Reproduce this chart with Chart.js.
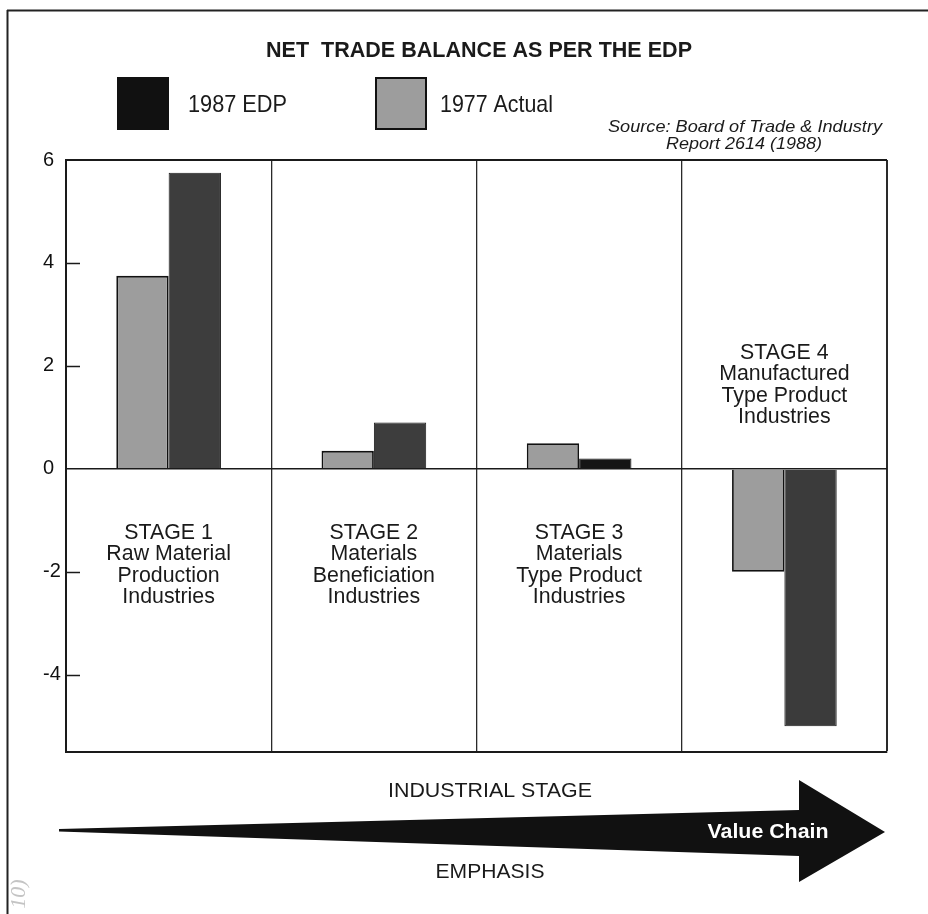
<!DOCTYPE html>
<html>
<head>
<meta charset="utf-8">
<title>Net Trade Balance as per the EDP</title>
<script src="https://cdn.jsdelivr.net/npm/chart.js@4.4.1/dist/chart.umd.min.js"></script>
<style>
  html, body { margin: 0; padding: 0; background: #fff; }
  #wrap { width: 928px; height: 914px; position: relative; }
</style>
</head>
<body>
<div id="wrap"><canvas id="tradeChart" width="928" height="914"></canvas></div>
<script>
// --- Data ---
const stages = [
    ['STAGE 1', 'Raw Material', 'Production', 'Industries'],
    ['STAGE 2', 'Materials', 'Beneficiation', 'Industries'],
    ['STAGE 3', 'Materials', 'Type Product', 'Industries'],
    ['STAGE 4', 'Manufactured', 'Type Product', 'Industries']
];
const seriesLabels = ['1977 Actual', '1987 EDP'];
const actual1977 = [3.75, 0.35, 0.5, -2.0];
const edp1987 = [5.75, 0.9, 0.2, -5.0];
const yTicks = [-4, -2, 0, 2, 4, 6];

const FONT = "'Liberation Sans', Arial, Helvetica, sans-serif";
const INK = '#1a1a1a';

// draw text stretched/squeezed to a given width, centred on cx
function fitText(ctx, text, cx, y, width, font, color) {
    ctx.save();
    ctx.font = font;
    ctx.fillStyle = color || INK;
    ctx.textAlign = 'center';
    ctx.textBaseline = 'alphabetic';
    const w = ctx.measureText(text).width;
    ctx.translate(cx, y);
    ctx.scale(width / w, 1);
    ctx.fillText(text, 0, 0);
    ctx.restore();
}

// --- Extra drawing: frame, title, legend, stage names, value chain arrow ---
const decorations = {
    id: 'decorations',
    beforeDraw(chart) {
        const ctx = chart.ctx;
        ctx.save();
        ctx.fillStyle = '#fff';
        ctx.fillRect(0, 0, chart.width, chart.height);
        ctx.restore();
    },
    afterDatasetsDraw(chart) {
        const ctx = chart.ctx;
        const x = chart.scales.x, y = chart.scales.y;
        const area = chart.chartArea;

        // short inward tick marks on the value axis
        ctx.save();
        ctx.strokeStyle = INK;
        ctx.lineWidth = 1.5;
        yTicks.filter(v => v !== 0 && v !== 6).forEach(v => {
            const py = Math.round(y.getPixelForValue(v)) + 0.5;
            ctx.beginPath();
            ctx.moveTo(area.left, py);
            ctx.lineTo(area.left + 14, py);
            ctx.stroke();
        });

        // stage names go on the side of the zero line the bars leave empty
        const zero = y.getPixelForValue(0);
        chart.data.labels.forEach((lines, i) => {
            const cx = x.getPixelForValue(i);
            const below = edp1987[i] >= 0;
            const start = below ? zero + 70 : zero - 110;
            lines.forEach((t, k) => {
                ctx.save();
                ctx.font = '22px ' + FONT;
                const w = ctx.measureText(t).width;
                ctx.restore();
                fitText(ctx, t, cx, start + k * 21.5, w * 0.97, '22px ' + FONT);
            });
        });
        ctx.restore();
    },
    afterDraw(chart) {
        const ctx = chart.ctx;
        const ds = chart.data.datasets;

        // page frame
        ctx.save();
        ctx.strokeStyle = '#222';
        ctx.lineWidth = 2;
        ctx.beginPath();
        ctx.moveTo(7, 10.5);
        ctx.lineTo(928, 10.5);
        ctx.moveTo(7.5, 10);
        ctx.lineTo(7.5, 914);
        ctx.stroke();
        ctx.restore();

        // title
        fitText(ctx, 'NET  TRADE BALANCE AS PER THE EDP', 479, 57, 426, 'bold 22px ' + FONT);

        // legend, EDP listed first
        const legend = [
            { d: ds[1], sx: 117, tx: 188, tw: 99 },
            { d: ds[0], sx: 375, tx: 440, tw: 113 }
        ];
        legend.forEach(item => {
            ctx.save();
            const fill = Array.isArray(item.d.backgroundColor) ? '#111' : item.d.backgroundColor;
            ctx.fillStyle = fill;
            ctx.fillRect(item.sx, 77, 52, 53);
            ctx.strokeStyle = '#111';
            ctx.lineWidth = 2;
            ctx.strokeRect(item.sx + 1, 78, 50, 51);
            ctx.restore();
            fitText(ctx, item.d.label, item.tx + item.tw / 2, 112, item.tw, '24px ' + FONT);
        });

        // source note
        fitText(ctx, 'Source: Board of Trade & Industry', 745, 131.5, 274, 'italic 17px ' + FONT);
        fitText(ctx, 'Report 2614 (1988)', 744, 149, 156, 'italic 17px ' + FONT);

        // value chain arrow under the plot
        ctx.save();
        ctx.fillStyle = '#111';
        ctx.beginPath();
        ctx.moveTo(59, 829);
        ctx.lineTo(799, 810);
        ctx.lineTo(799, 780);
        ctx.lineTo(885, 832);
        ctx.lineTo(799, 882);
        ctx.lineTo(799, 856);
        ctx.lineTo(59, 831.5);
        ctx.closePath();
        ctx.fill();
        ctx.restore();

        fitText(ctx, 'INDUSTRIAL STAGE', 490, 797, 204, '21px ' + FONT);
        fitText(ctx, 'EMPHASIS', 490, 878, 109, '21px ' + FONT);
        fitText(ctx, 'Value Chain', 768, 838, 121, 'bold 20px ' + FONT, '#fff');

        // faint page number at the margin
        ctx.save();
        ctx.translate(19, 894);
        ctx.rotate(-Math.PI / 2);
        ctx.font = "italic 22px 'Liberation Serif', serif";
        ctx.fillStyle = '#c4c4c4';
        ctx.textAlign = 'center';
        ctx.textBaseline = 'middle';
        ctx.fillText('10)', 0, 0);
        ctx.restore();
    }
};

// --- Chart.js setup ---
const ctx = document.getElementById('tradeChart').getContext('2d');

const tradeChart = new Chart(ctx, {
    type: 'bar',
    data: {
        labels: stages,
        datasets: [{
            label: seriesLabels[0],
            data: actual1977,
            backgroundColor: '#9d9d9d',
            borderColor: '#111',
            borderWidth: 1.8
        }, {
            label: seriesLabels[1],
            data: edp1987,
            backgroundColor: ['#3d3d3d', '#3d3d3d', '#151515', '#3b3b3b'],
            borderColor: '#1c1c1c',
            borderWidth: 1
        }]
    },
    options: {
        responsive: false,
        animation: false,
        categoryPercentage: 0.51,
        barPercentage: 1.0,
        layout: { padding: { left: 43, right: 41, top: 160, bottom: 162 } },
        plugins: {
            legend: { display: false },
            tooltip: { enabled: false }
        },
        scales: {
            x: {
                offset: true,
                ticks: { display: false },
                grid: {
                    offset: true,
                    drawTicks: false,
                    color: '#2a2a2a',
                    lineWidth: c => c.tick ? 1.3 : 2
                },
                border: { color: INK, width: 2 },
                afterFit: s => { s.height = 0; }
            },
            y: {
                min: -5.5,
                max: 6,
                afterBuildTicks: s => { s.ticks = yTicks.map(v => ({ value: v })); },
                afterFit: s => { s.width = 23; },
                ticks: {
                    crossAlign: 'far',
                    padding: 0,
                    color: '#111',
                    font: { family: FONT, size: 20 }
                },
                grid: {
                    drawTicks: false,
                    color: c => (c.tick && (c.tick.value === 0 || c.tick.value === 6)) ? INK : 'rgba(0,0,0,0)',
                    lineWidth: c => (c.tick && c.tick.value === 6) ? 2 : 1.6
                },
                border: { color: INK, width: 2 }
            }
        }
    },
    plugins: [decorations]
});
</script>
</body>
</html>
